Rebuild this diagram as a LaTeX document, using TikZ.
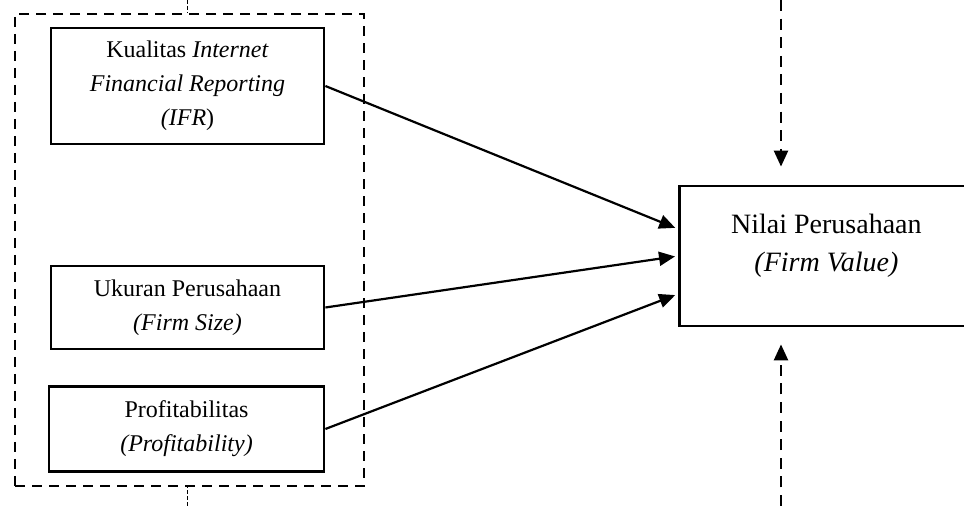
\documentclass[tikz,border=0pt]{standalone}
\usepackage{fontspec}
\setmainfont{Liberation Serif}
\usetikzlibrary{arrows.meta, positioning}

\begin{document}
\begin{tikzpicture}[x=0.5pt, y=-0.5pt, >={Triangle[length=8pt, width=7pt]},
    var/.style={rectangle, draw, line width=1.4pt, minimum width=136.5pt, align=center, font=\fontsize{12}{17}\selectfont},
    link/.style={->, line width=1.1pt, shorten >=1.5pt},
    group/.style={draw, line width=1.2pt, dash pattern=on 5pt off 3.5pt},
    feed/.style={->, line width=1.2pt, dash pattern=on 5.5pt off 3.8pt},
    tick/.style={line width=0.5pt, dash pattern=on 2pt off 1pt}]
    \useasboundingbox (0,0) rectangle (964,506);

    % Nodes
    \node (indep) [group, minimum width=174.5pt, minimum height=236pt] at (189.5,250) {};
    \node (ifr) [var, minimum height=58pt] at (187.5,86) {Kualitas \textit{Internet}\\\textit{Financial Reporting}\\\textit{(IFR})};
    \node (size) [var, minimum height=41.5pt] at (187.5,307.5) {Ukuran Perusahaan\\\textit{(Firm Size)}};
    \node (profit) [var, minimum height=42.5pt, minimum width=137.5pt] at (186.5,429) {Profitabilitas\\\textit{(Profitability)}};
    \node (value) [rectangle, draw, line width=1.4pt, anchor=west, minimum width=170pt, minimum height=70pt, align=center, text depth=13pt, font=\fontsize{14}{19}\selectfont] at (678,256) {Nilai Perusahaan\hspace*{23pt}\\\textit{(Firm Value)}\hspace*{23pt}};

    \coordinate (grouptop) at (187,0);
    \coordinate (groupbottom) at (187,506);
    \coordinate (topin) at (781,0);
    \coordinate (bottomin) at (781,506);

    % Edges
    \draw[link] (ifr.east) -- ([yshift=13.5pt]value.west);
    \draw[link] (size.east) -- (value.west);
    \draw[link] (profit.east) -- ([yshift=-19pt]value.west);
    \draw[feed, shorten >=9pt] (topin) -- (topin |- value.north);
    \draw[feed, shorten >=8.5pt] (bottomin) -- (bottomin |- value.south);
    \draw[tick] (grouptop) -- (grouptop |- indep.north);
    \draw[tick] (groupbottom) -- (groupbottom |- indep.south);
\end{tikzpicture}
\end{document}
